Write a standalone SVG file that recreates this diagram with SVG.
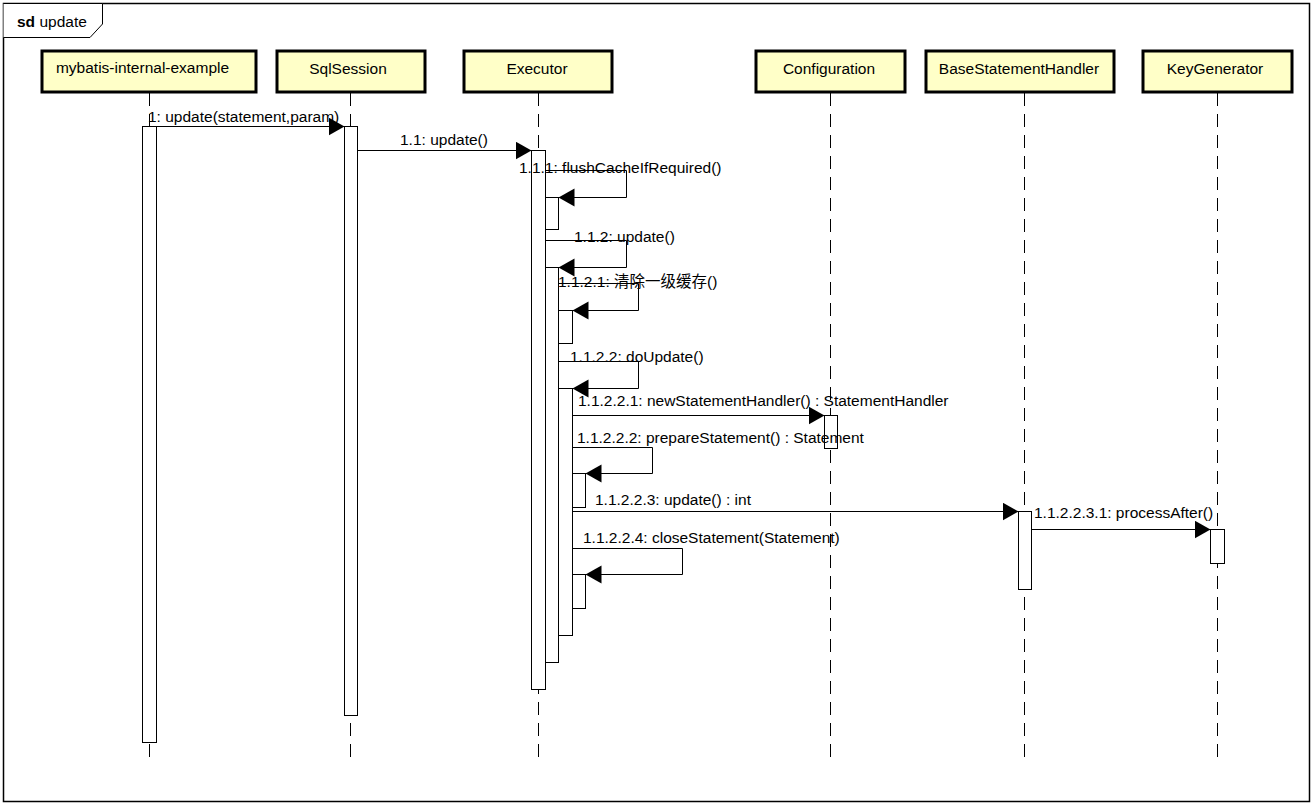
<svg xmlns="http://www.w3.org/2000/svg" width="1313" height="804" viewBox="0 0 1313 804">
<style>
text{font-family:"Liberation Sans",Arial,"Noto Sans CJK SC",sans-serif;font-size:15.5px;fill:#000}
.head rect{fill:#ffffc8;stroke:#000;stroke-width:3}
.head text{text-anchor:middle}
.life{stroke:#000;stroke-width:1;stroke-dasharray:13 8;fill:none}
.act{fill:#fff;stroke:#000;stroke-width:1}
.msg{fill:none;stroke:#000;stroke-width:1;marker-end:url(#arr)}
</style>
<defs>
<marker id="arr" markerUnits="userSpaceOnUse" markerWidth="17" markerHeight="19" refX="16" refY="9" orient="auto">
<path d="M0,0 L16,9 L0,18 Z" fill="#000"/>
</marker>
</defs>
<rect x="0" y="0" width="1313" height="804" fill="#fff"/>
<g id="frame">
<rect x="3.5" y="3.5" width="1306" height="798" fill="none" stroke="#000" stroke-width="1.5"/>
<path d="M3.5,3.5 H102.5 V24 L90,37.5 H3.5" fill="#fff" stroke="#000" stroke-width="1"/>
<text x="17" y="27"><tspan font-weight="bold">sd</tspan> update</text>
</g>
<g id="lifelines">
<line class="life" x1="149.5" y1="93" x2="149.5" y2="758"/>
<line class="life" x1="350.5" y1="93" x2="350.5" y2="758"/>
<line class="life" x1="538.5" y1="93" x2="538.5" y2="758"/>
<line class="life" x1="830.5" y1="93" x2="830.5" y2="758"/>
<line class="life" x1="1024.5" y1="93" x2="1024.5" y2="758"/>
<line class="life" x1="1217.5" y1="93" x2="1217.5" y2="758"/>
</g>
<g id="n-mybatis" class="head"><rect x="42" y="51" width="214" height="41"/><text x="142.5" y="73">mybatis-internal-example</text></g>
<g id="n-sqlsession" class="head"><rect x="277" y="51" width="148" height="41"/><text x="348" y="74">SqlSession</text></g>
<g id="n-executor" class="head"><rect x="464" y="51" width="148" height="41"/><text x="537" y="74">Executor</text></g>
<g id="n-configuration" class="head"><rect x="756" y="51" width="149" height="41"/><text x="829" y="74">Configuration</text></g>
<g id="n-basestatementhandler" class="head"><rect x="926" y="51" width="188" height="41"/><text x="1019" y="74">BaseStatementHandler</text></g>
<g id="n-keygenerator" class="head"><rect x="1143" y="51" width="149" height="41"/><text x="1215" y="74">KeyGenerator</text></g>
<g id="activations">
<rect class="act" x="142.5" y="126.5" width="14" height="616"/>
<rect class="act" x="344.5" y="126.5" width="13" height="589"/>
<rect class="act" x="531.5" y="150.5" width="14" height="539"/>
<rect class="act" x="545.5" y="197.5" width="13" height="32"/>
<rect class="act" x="545.5" y="267.5" width="13" height="395"/>
<rect class="act" x="558.5" y="310.5" width="14" height="33"/>
<rect class="act" x="558.5" y="388.5" width="14" height="247"/>
<rect class="act" x="572.5" y="473.5" width="13" height="34"/>
<rect class="act" x="572.5" y="574.5" width="13" height="34"/>
<rect class="act" x="824.5" y="415.5" width="13" height="33"/>
<rect class="act" x="1018.5" y="511.5" width="13" height="78"/>
<rect class="act" x="1210.5" y="529.5" width="14" height="34"/>
</g>
<g id="connectors">
<path class="msg" d="M156.5,126.5 H344.5"/>
<path class="msg" d="M357.5,150.5 H531.5"/>
<path class="msg" d="M545.5,170.5 H626.5 V197.5 H558.5"/>
<path class="msg" d="M545.5,240.5 H626.5 V267.5 H558.5"/>
<path class="msg" d="M558.5,283.5 H638.5 V310.5 H572.5"/>
<path class="msg" d="M558.5,361.5 H638.5 V388.5 H572.5"/>
<path class="msg" d="M572.5,415.5 H824.5"/>
<path class="msg" d="M572.5,447.5 H652.5 V473.5 H585.5"/>
<path class="msg" d="M572.5,511.5 H1018.5"/>
<path class="msg" d="M1031.5,529.5 H1210.5"/>
<path class="msg" d="M572.5,548.5 H682.5 V574.5 H585.5"/>
</g>
<g id="labels">
<text x="148" y="122">1: update(statement,param)</text>
<text x="400" y="145">1.1: update()</text>
<text x="519" y="173">1.1.1: flushCacheIfRequired()</text>
<text x="574" y="242">1.1.2: update()</text>
<text x="558" y="287">1.1.2.1: 清除一级缓存()</text>
<text x="570" y="362">1.1.2.2: doUpdate()</text>
<text x="578" y="406">1.1.2.2.1: newStatementHandler() : StatementHandler</text>
<text x="577" y="443">1.1.2.2.2: prepareStatement() : Statement</text>
<text x="595" y="505">1.1.2.2.3: update() : int</text>
<text x="583" y="543">1.1.2.2.4: closeStatement(Statement)</text>
<text x="1034" y="518">1.1.2.2.3.1: processAfter()</text>
</g>
</svg>
